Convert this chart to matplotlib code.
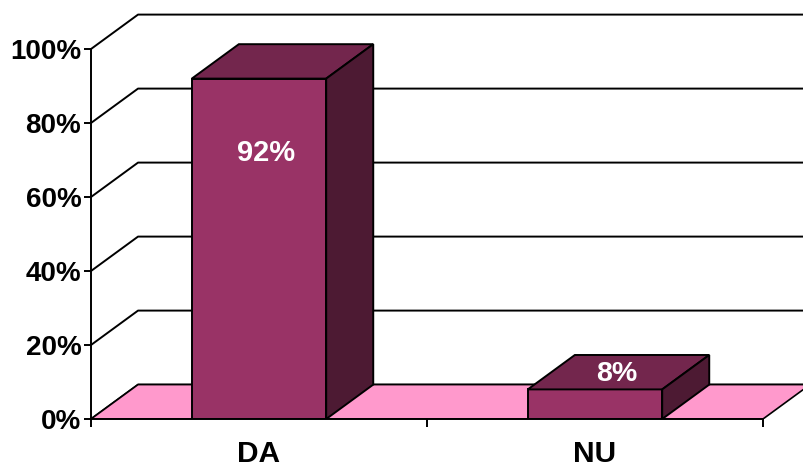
import matplotlib.pyplot as plt
from matplotlib.patches import Polygon

# data
categories = ["DA", "NU"]
values = [92, 8]
value_labels = ["92%", "8%"]
y_ticks = [0, 20, 40, 60, 80, 100]
y_tick_labels = ["0%", "20%", "40%", "60%", "80%", "100%"]

plt.rcParams['font.family'] = ['Liberation Sans', 'DejaVu Sans']

# 3d look: depth offset in data units
dx, dy = 0.14, 9.3
bar_w = 0.4
front_col = "#993366"
top_col = "#73264D"
side_col = "#4D1A33"
floor_col = "#FF99CC"

fig = plt.figure(figsize=(8.04, 4.68), dpi=100)
ax = fig.add_axes([91 / 804, 49 / 468, 713 / 804, 419 / 468])
ax.set_xlim(0, 713 / 336)
ax.set_ylim(0, 419 / 3.7)

n = len(categories)
x_end = ax.get_xlim()[1] + 0.1

# walls: gridlines
for t in y_ticks:
    ax.plot([0, dx, x_end], [t, t + dy, t + dy], color="black", lw=1.4,
            clip_on=False, zorder=1)

# floor
ax.add_patch(Polygon([(0, 0), (n, 0), (n + dx, dy), (dx, dy)],
                     closed=True, facecolor=floor_col, edgecolor="black",
                     lw=1.2, zorder=2))

# bars
for i, v in enumerate(values):
    c = i + 0.5
    x0, x1 = c - bar_w / 2, c + bar_w / 2
    ax.add_patch(Polygon([(x0, 0), (x1, 0), (x1, v), (x0, v)],
                         facecolor=front_col, edgecolor="black", lw=1.4, zorder=3))
    ax.add_patch(Polygon([(x0, v), (x1, v), (x1 + dx, v + dy), (x0 + dx, v + dy)],
                         facecolor=top_col, edgecolor="black", lw=1.4, zorder=3))
    ax.add_patch(Polygon([(x1, 0), (x1 + dx, dy), (x1 + dx, v + dy), (x1, v)],
                         facecolor=side_col, edgecolor="black", lw=1.4, zorder=3))

# value labels
ax.text(0.5 + 0.02, values[0] - 20, value_labels[0], color="white",
        fontsize=21, fontweight="bold", ha="center", va="center", zorder=5)
ax.text(1.5 + dx / 2 - 0.006, values[1] + dy / 2 - 0.4, value_labels[1], color="white",
        fontsize=20.5, fontweight="bold", ha="center", va="center", zorder=5)

# axes
for s in ["top", "right"]:
    ax.spines[s].set_visible(False)
ax.spines["left"].set_bounds(0, 100)
ax.spines["bottom"].set_bounds(0, n)
ax.spines["left"].set_linewidth(1.4)
ax.spines["bottom"].set_linewidth(1.4)
ax.spines["left"].set_zorder(4)
ax.spines["bottom"].set_zorder(4)

ax.set_yticks(y_ticks)
ax.set_yticklabels(y_tick_labels, fontsize=20, fontweight="bold")
ax.tick_params(axis="y", direction="out", length=5, width=1.4, pad=2)

ax.set_xticks([i + 0.5 for i in range(n)])
ax.set_xticklabels(categories, fontsize=21.5, fontweight="bold")
ax.set_xticks(range(n + 1), minor=True)
ax.tick_params(axis="x", which="major", length=0, pad=15)
ax.tick_params(axis="x", which="minor", direction="out", length=6, width=1.4)
ax.patch.set_alpha(0)

fig.savefig("out.png", dpi=100)
